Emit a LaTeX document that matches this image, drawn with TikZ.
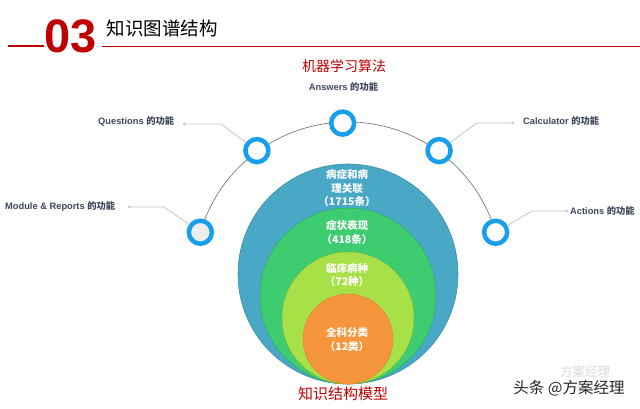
\documentclass[tikz,border=0pt]{standalone}
\usepackage{fontspec}
\setmainfont{Liberation Sans}
\newfontfamily\cjk{Noto Sans CJK SC}
\usetikzlibrary{calc,arrows.meta}
\definecolor{titlered}{RGB}{192,0,0}
\definecolor{ringblue}{RGB}{22,160,236}
\definecolor{labelgray}{RGB}{62,72,92}
\definecolor{leadgray}{RGB}{196,198,202}
\definecolor{arcgray}{RGB}{105,105,115}
\definecolor{tealc}{RGB}{72,168,198}
\definecolor{greenc}{RGB}{62,204,112}
\definecolor{limec}{RGB}{168,224,72}
\definecolor{orangec}{RGB}{246,150,60}
\tikzset{
  ring/.style={circle, draw=ringblue, line width=4.5pt, fill=white, minimum size=23pt, inner sep=0pt},
  disc/.style={circle, inner sep=0pt},
  lead/.style={draw=leadgray, line width=0.8pt, -{Circle[length=2.6pt]}},
  funclabel/.style={font=\fontsize{9.3}{11}\selectfont\bfseries, text=labelgray, inner sep=0pt},
  disctext/.style={font=\fontsize{10.5}{13.5}\selectfont\cjk\bfseries, text=white, align=center, inner sep=0pt},
  redhead/.style={font=\fontsize{14}{16}\selectfont\cjk, text=titlered, inner sep=0pt}
}
\begin{document}
\begin{tikzpicture}[x=1pt,y=-1pt]
\useasboundingbox[fill=white] (0,0) rectangle (640,408);

% header
\draw[titlered, line width=2.2pt] (8,46) -- (44,46);
\draw[titlered, line width=1.8pt] (102,46.5) -- (640,46.5);
\node[anchor=base west, inner sep=0pt, text=titlered, font=\fontsize{47}{50}\selectfont\bfseries] (num) at (44.5,52.5) {03};
\node[anchor=base west, inner sep=0pt, font=\fontsize{18.5}{20}\selectfont\cjk] (title) at (106.5,35) {知识图谱结构};

% nested discs
\node[disc, fill=tealc, draw=tealc!85!black, line width=0.6pt, minimum size=220pt] (d1) at (348,274) {};
\node[disc, fill=greenc, draw=greenc!85!black, line width=0.5pt, minimum size=176pt] (d2) at (348,296) {};
\node[disc, fill=limec, draw=limec!85!black, line width=0.5pt, minimum size=132pt] (d3) at (348,318) {};
\node[disc, fill=orangec, draw=orangec!90!black, line width=0.5pt, minimum size=90pt] (d4) at (348,339) {};

\node[disctext] (t1) at (347,188.5) {病症和病\\理关联\\（1715条）};
\node[disctext] (t2) at (347,232.5) {症状表现\\（418条）};
\node[disctext] (t3) at (347,275) {临床病种\\（72种）};
\node[disctext] (t4) at (347,339.5) {全科分类\\（12类）};

% arc and ring nodes
\coordinate (c) at (348,276);
\draw[arcgray, line width=0.6pt] ($(c)+(-164:154)$) arc[start angle=-164, end angle=-16, radius=154];
\node[ring] (rans) at ($(c)+(-92:153)$) {};
\node[ring] (rq) at ($(c)+(-126:155)$) {};
\node[ring] (rc) at ($(c)+(-54:155)$) {};
\node[ring, fill=black!7] (rm) at ($(c)+(-163.5:154)$) {};
\node[ring] (ra) at ($(c)+(-16.5:154)$) {};

% labels
\node[redhead] (alg) at (344,66.5) {机器学习算法};
\node[funclabel] (lans) at (343.5,87) {Answers {\cjk 的功能}};
\node[funclabel, anchor=west] (lq) at (98,121) {Questions {\cjk 的功能}};
\node[funclabel, anchor=west] (lc) at (523,121) {Calculator {\cjk 的功能}};
\node[funclabel, anchor=west] (lm) at (5,206) {Module \& Reports {\cjk 的功能}};
\node[funclabel, anchor=west] (la) at (570,211) {Actions {\cjk 的功能}};

% leader lines
\coordinate (qd) at (183,124);
\coordinate (cd) at (514,123);
\coordinate (md) at (128,207);
\coordinate (ad) at (568,211);
\draw[lead] (rq) -- (221,124) -- (qd);
\draw[lead] (rc) -- (477,123) -- (cd);
\draw[lead] (rm) -- (164,207) -- (md);
\draw[lead] (ra) -- (532,211) -- (ad);

% bottom caption
\node[redhead, font=\fontsize{15}{17}\selectfont\cjk] (model) at (343,394) {知识结构模型};

% watermark
\node[inner sep=0pt, text=black!15, font=\fontsize{12.5}{13}\selectfont\cjk] (wm1) at (585,371.5) {方案经理};
\node[inner sep=0pt, font=\fontsize{15.5}{17}\selectfont\cjk, text=black!85] (wm2) at (569,388.5) {头条 @方案经理};
\end{tikzpicture}
\end{document}
